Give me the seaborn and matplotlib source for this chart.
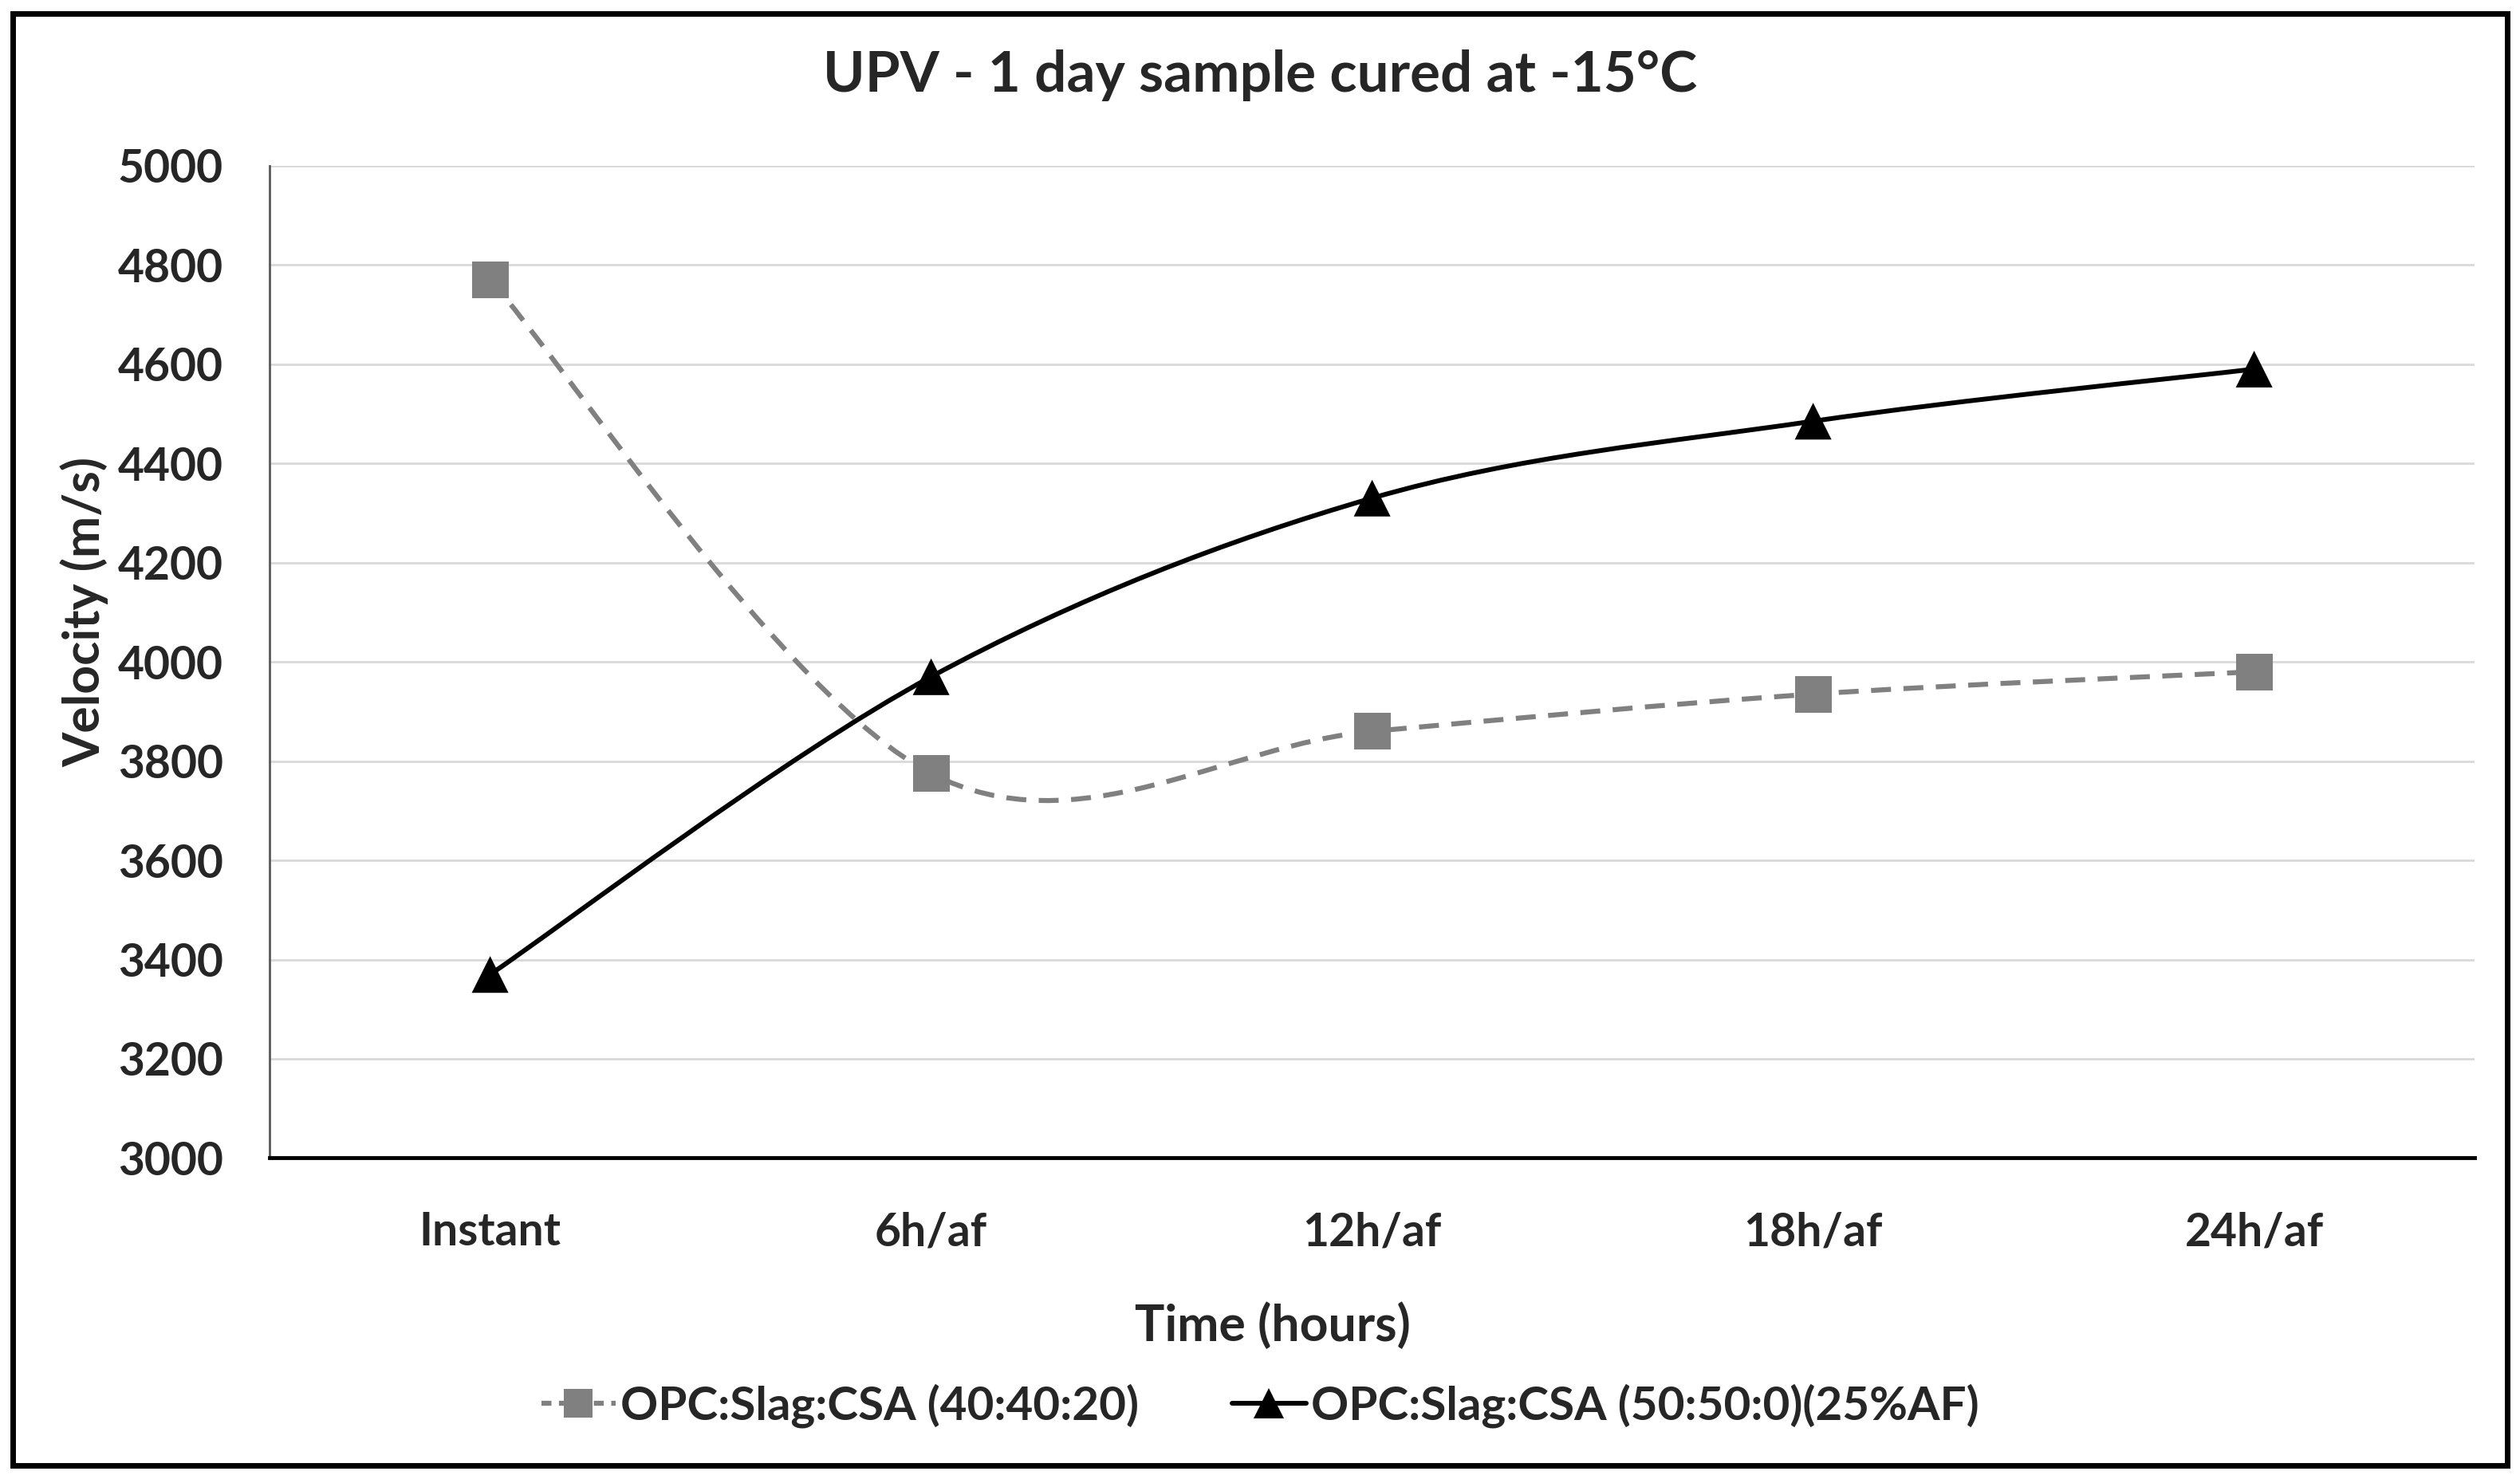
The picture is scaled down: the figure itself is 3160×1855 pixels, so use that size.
import numpy as np
import pandas as pd
import seaborn as sns
import matplotlib.pyplot as plt
from matplotlib.path import Path
from matplotlib.patches import PathPatch, Rectangle
from matplotlib.lines import Line2D

# chart data
times = ["Instant", "6h/af", "12h/af", "18h/af", "24h/af"]
mix_a = [4770, 3775, 3860, 3935, 3980]   # OPC:Slag:CSA (40:40:20)
mix_b = [3370, 3970, 4330, 4485, 4590]   # OPC:Slag:CSA (50:50:0)(25%AF)
label_a = "OPC:Slag:CSA (40:40:20)"
label_b = "OPC:Slag:CSA (50:50:0)(25%AF)"
y_ticks = list(range(3000, 5001, 200))

sns.set_theme(style="white")
plt.rcParams['font.family'] = ['Lato', 'DejaVu Sans']
plt.rcParams['font.weight'] = 'bold'

df = pd.DataFrame({
    "pos": list(range(len(times))) * 2,
    "velocity": mix_a + mix_b,
    "series": [label_a] * len(times) + [label_b] * len(times),
})

fig = plt.figure(figsize=(31.6, 18.55), dpi=100)
ax = fig.add_axes([0.107, 0.217, 0.875, 0.671])


def smooth_path(xs, ys):
    # excel-style smoothed line: cubic bezier through the points
    pts = np.column_stack([xs, ys]).astype(float)
    ext = np.vstack([pts[0], pts, pts[-1]])
    verts = [pts[0]]
    codes = [Path.MOVETO]
    for i in range(len(pts) - 1):
        p0, p1, p2, p3 = ext[i], ext[i + 1], ext[i + 2], ext[i + 3]
        verts += [p1 + (p2 - p0) / 6, p2 - (p3 - p1) / 6, p2]
        codes += [Path.CURVE4] * 3
    return Path(verts, codes)


ax.add_patch(PathPatch(smooth_path(range(len(times)), mix_a), fill=False,
                       edgecolor="#808080", lw=4.5, linestyle=(0, (4, 2.5)),
                       zorder=2))
ax.add_patch(PathPatch(smooth_path(range(len(times)), mix_b), fill=False,
                       edgecolor="black", lw=4.3, zorder=2))

sns.scatterplot(data=df, x="pos", y="velocity", hue="series", style="series",
                palette={label_a: "#808080", label_b: "black"},
                markers={label_a: "s", label_b: "^"}, s=1100, linewidth=0,
                legend=False, ax=ax, zorder=3)

ax.set_xlim(-0.5, len(times) - 0.5)
ax.set_ylim(3000, 5000)
ax.set_xticks(range(len(times)))
ax.set_xticklabels(times)
ax.set_yticks(y_ticks)
ax.tick_params(axis="both", labelsize=41, length=0)
ax.tick_params(axis="y", pad=42)
ax.tick_params(axis="x", pad=48)
ax.yaxis.grid(True, color="#d9d9d9", lw=2)
ax.set_axisbelow(True)
for s in ["top", "right"]:
    ax.spines[s].set_visible(False)
ax.spines["left"].set_color("#595959")
ax.spines["left"].set_linewidth(2)
ax.spines["bottom"].set_color("black")
ax.spines["bottom"].set_linewidth(3.5)

ax.set_xlabel("Time (hours)", fontsize=45, fontweight="bold")
ax.set_ylabel("Velocity (m/s)", fontsize=45, fontweight="bold")
ax.xaxis.set_label_coords(0.455, -0.145)
ax.yaxis.set_label_coords(-0.073, 0.55)

fig.suptitle("UPV - 1 day sample cured at -15°C", y=0.949, va="center",
             fontsize=51, fontweight="bold")

handles = [
    Line2D([], [], color="#808080", lw=4.5, ls=(0, (2, 1.5)), marker="s",
           markersize=26, markeredgewidth=0),
    Line2D([], [], color="black", lw=4.3, marker="^", markersize=28,
           markeredgewidth=0),
]
fig.legend(handles, [label_a, label_b], loc="center", ncol=2,
           bbox_to_anchor=(0.5, 0.0496), frameon=False,
           handlelength=1.6, handletextpad=0.1, columnspacing=2.0,
           prop={"weight": "bold", "size": 42})

fig.add_artist(Rectangle((0.005, 0.009), 0.99, 0.982, transform=fig.transFigure,
                         fill=False, edgecolor="black", lw=5))

fig.savefig("out.png", dpi=100, facecolor="white")
